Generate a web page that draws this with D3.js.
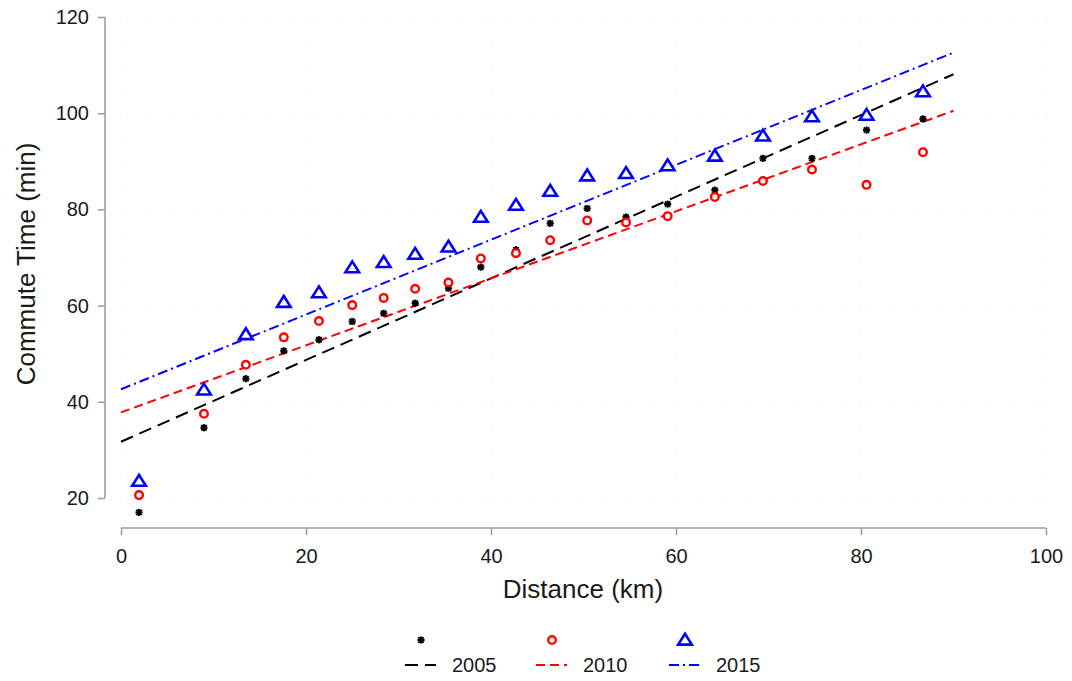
<!DOCTYPE html>
<html><head><meta charset="utf-8">
<script src="https://cdn.jsdelivr.net/npm/d3@7"></script>
<style>body{margin:0;background:#fff}svg{display:block}text{font-family:"Liberation Sans",Arial,sans-serif;fill:#1a1a1a}</style>
</head><body><svg id="c" width="1072" height="681"></svg>
<script>
const distance = [1.95, 8.97, 13.5, 17.6, 21.4, 25.0, 28.4, 31.8, 35.4, 38.9, 42.7, 46.4, 50.4, 54.6, 59.1, 64.2, 69.4, 74.7, 80.6, 86.7];
const t2005 = [17.0, 34.6, 44.8, 50.6, 52.9, 56.7, 58.4, 60.5, 63.6, 68.0, 71.6, 77.1, 80.2, 78.4, 81.1, 84.0, 90.6, 90.6, 96.5, 98.8];
const t2010 = [20.6, 37.5, 47.7, 53.4, 56.8, 60.1, 61.6, 63.5, 64.8, 69.8, 70.9, 73.6, 77.7, 77.3, 78.6, 82.6, 85.9, 88.3, 85.1, 91.9];
const t2015 = [23.5, 42.5, 54.0, 60.7, 62.7, 67.9, 69.0, 70.7, 72.2, 78.4, 80.9, 83.8, 87.0, 87.5, 89.1, 91.1, 95.3, 99.3, 99.6, 104.5];
const years = ["2005", "2010", "2015"];
const fitIntercept = [31.7, 37.8, 42.6];
const fitEnd = [108.1, 100.5, 112.6];
const fitRange = [0, 90];
const xTicks = [0, 20, 40, 60, 80, 100];
const yTicks = [20, 40, 60, 80, 100, 120];

const svg = d3.select("#c");
const x = d3.scaleLinear().domain([0, 100]).range([121, 1046]);
const y = d3.scaleLinear().domain([20, 120]).range([498, 17]);
const colors = ["#000000", "#ff0000", "#0000ff"];
const dashes = ["13,7", "9,5", "10,4,2,4"];
const series = [t2005, t2010, t2015];

// faint grid
const g = svg.append("g");
g.selectAll("line.hg").data(yTicks).join("line")
  .attr("x1", x(0)).attr("x2", x(100)).attr("y1", d => y(d)).attr("y2", d => y(d))
  .attr("stroke", "#f0f0f0").attr("stroke-dasharray", "1,5");
g.selectAll("line.vg").data(xTicks).join("line")
  .attr("y1", y(20)).attr("y2", y(120)).attr("x1", d => x(d)).attr("x2", d => x(d))
  .attr("stroke", "#f0f0f0").attr("stroke-dasharray", "1,5");

// axes
const xAxis = svg.append("g").attr("transform", "translate(0,528)")
  .call(d3.axisBottom(x).tickValues(xTicks).tickSize(7).tickPadding(14).tickFormat(d3.format("d")));
const yAxis = svg.append("g").attr("transform", "translate(105,0)")
  .call(d3.axisLeft(y).tickValues(yTicks).tickSize(7).tickPadding(9).tickFormat(d3.format("d")));
[xAxis, yAxis].forEach(a => {
  a.select(".domain").attr("stroke", "#9a9a9a").attr("stroke-width", 1.5);
  a.selectAll(".tick line").attr("stroke", "#9a9a9a").attr("stroke-width", 1.5);
  a.selectAll(".tick text").attr("font-size", 20).attr("fill", "#1a1a1a")
   .attr("font-family", "Liberation Sans, Arial, sans-serif");
});
xAxis.select(".domain").attr("d", `M${x(0)},0H${x(100)}`);
yAxis.select(".domain").attr("d", `M0,${y(20)}V${y(120)}`);

svg.append("text").attr("x", 583).attr("y", 598).attr("text-anchor", "middle")
  .attr("font-size", 26).text("Distance (km)");
svg.append("text").attr("transform", "translate(35,264) rotate(-90)").attr("text-anchor", "middle")
  .attr("font-size", 26).text("Commute Time (min)");

// fit lines
years.forEach((yr, i) => {
  svg.append("line")
    .attr("x1", x(fitRange[0])).attr("y1", y(fitIntercept[i]))
    .attr("x2", x(fitRange[1])).attr("y2", y(fitEnd[i]))
    .attr("stroke", colors[i]).attr("stroke-width", 2).attr("stroke-dasharray", dashes[i]);
});

// markers
function star(sel, cx, cy) {
  const r = 3.6;
  const gg = sel.append("g").attr("transform", `translate(${cx},${cy})`).attr("stroke", "#000").attr("stroke-width", 2);
  gg.append("line").attr("x1", -r).attr("x2", r).attr("y1", 0).attr("y2", 0);
  gg.append("line").attr("x1", -r*0.75).attr("x2", r*0.75).attr("y1", -r*0.75).attr("y2", r*0.75);
  gg.append("line").attr("x1", -r*0.75).attr("x2", r*0.75).attr("y1", r*0.75).attr("y2", -r*0.75);
  gg.append("line").attr("x1", 0).attr("x2", 0).attr("y1", -r).attr("y2", r);
}
function circ(sel, cx, cy) {
  sel.append("circle").attr("cx", cx).attr("cy", cy).attr("r", 3.8)
    .attr("fill", "#fff").attr("stroke", "#ff0000").attr("stroke-width", 2.4);
}
function tri(sel, cx, cy) {
  const h = 6.2;
  sel.append("path").attr("d", `M${cx},${cy - h}L${cx + h*1.1},${cy + h*0.75}L${cx - h*1.1},${cy + h*0.75}Z`)
    .attr("fill", "#fff").attr("stroke", "#0000ff").attr("stroke-width", 2.6).attr("stroke-linejoin", "miter");
}
const markers = [star, circ, tri];
const pts = svg.append("g");
series.forEach((vals, i) => {
  vals.forEach((v, j) => markers[i](pts, x(distance[j]), y(v)));
});

// legend
const legX = [421, 552, 685];
const leg = svg.append("g");
years.forEach((yr, i) => {
  markers[i](leg, legX[i], 640);
  leg.append("line").attr("x1", legX[i] - 16).attr("x2", legX[i] + 15).attr("y1", 665).attr("y2", 665)
    .attr("stroke", colors[i]).attr("stroke-width", 2).attr("stroke-dasharray", dashes[i]);
  leg.append("text").attr("x", legX[i] + 31).attr("y", 672).attr("font-size", 20).text(yr);
});
</script></body></html>
